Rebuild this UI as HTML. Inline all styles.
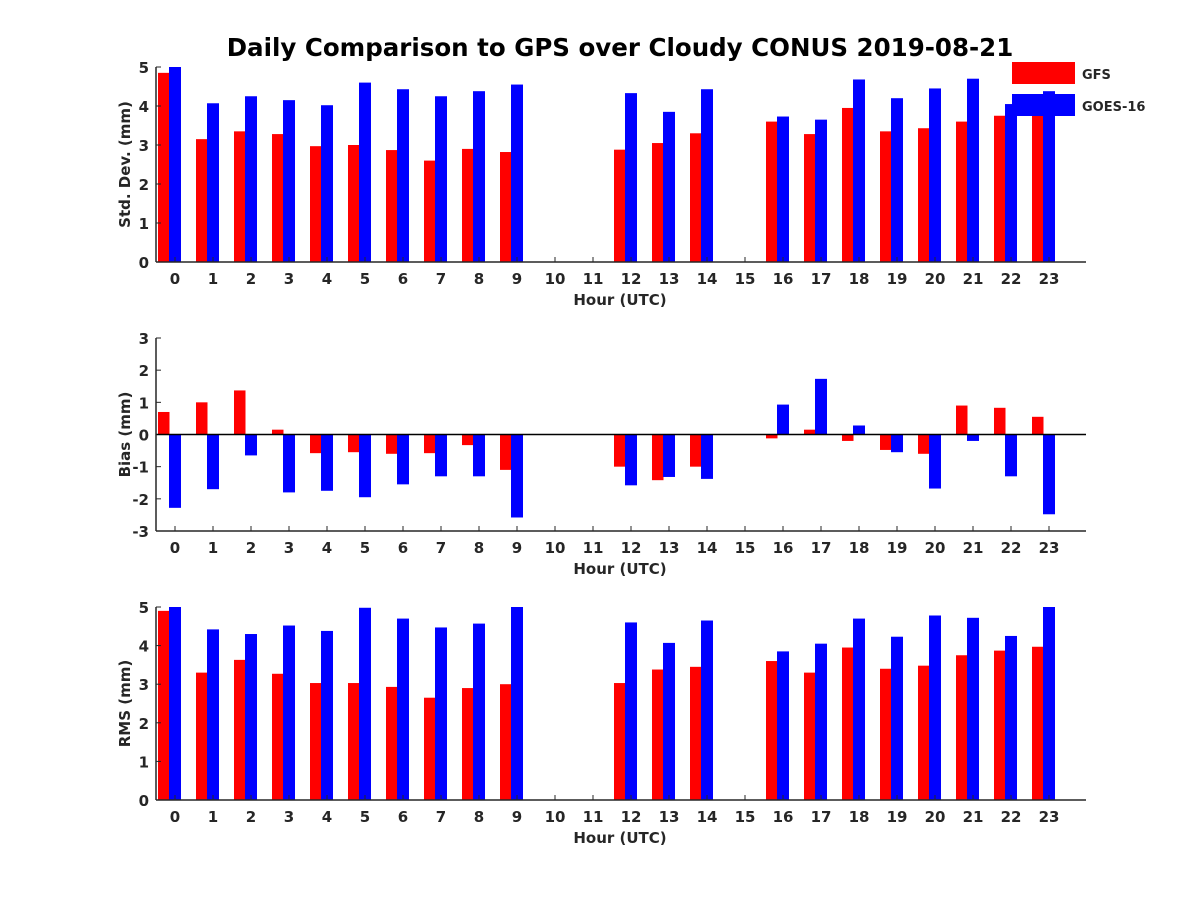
<!DOCTYPE html>
<html><head><meta charset="utf-8"><style>
body{margin:0;background:#fff}
svg text{font-family:"DejaVu Sans","Liberation Sans",sans-serif;font-weight:bold;fill:#262626}
</style></head><body>
<svg id="c" width="1200" height="900" xmlns="http://www.w3.org/2000/svg">
<rect width="1200" height="900" fill="#fff"/>
<text x="620" y="56" font-size="24.5" text-anchor="middle" style="fill:#000">Daily Comparison to GPS over Cloudy CONUS 2019-08-21</text>
</svg>
<script>
const hours=[0,1,2,3,4,5,6,7,8,9,10,11,12,13,14,15,16,17,18,19,20,21,22,23];
const stdGFS=[4.85,3.15,3.35,3.28,2.97,3.0,2.87,2.6,2.9,2.82,null,null,2.88,3.05,3.3,null,3.6,3.28,3.95,3.35,3.43,3.6,3.75,3.9];
const stdGOES=[5.0,4.07,4.25,4.15,4.02,4.6,4.43,4.25,4.38,4.55,null,null,4.33,3.85,4.43,null,3.73,3.65,4.68,4.2,4.45,4.7,4.05,4.38];
const biasGFS=[0.7,1.0,1.37,0.15,-0.58,-0.55,-0.6,-0.58,-0.33,-1.1,null,null,-1.0,-1.42,-1.0,null,-0.12,0.15,-0.2,-0.48,-0.6,0.9,0.83,0.55];
const biasGOES=[-2.28,-1.7,-0.65,-1.8,-1.75,-1.95,-1.55,-1.3,-1.3,-2.58,null,null,-1.58,-1.32,-1.38,null,0.93,1.73,0.28,-0.55,-1.68,-0.2,-1.3,-2.48];
const rmsGFS=[4.9,3.3,3.63,3.27,3.03,3.03,2.93,2.65,2.9,3.0,null,null,3.03,3.38,3.45,null,3.6,3.3,3.95,3.4,3.48,3.75,3.87,3.97];
const rmsGOES=[5.0,4.42,4.3,4.52,4.38,4.98,4.7,4.47,4.57,5.0,null,null,4.6,4.07,4.65,null,3.85,4.05,4.7,4.23,4.78,4.72,4.25,5.0];
const stdTicks=[0,1,2,3,4,5], biasTicks=[-3,-2,-1,0,1,2,3], rmsTicks=[0,1,2,3,4,5];
const svg=document.getElementById('c');
const NS='http://www.w3.org/2000/svg';
function mk(t,a,p){const e=document.createElementNS(NS,t);for(const k in a)e.setAttribute(k,a[k]);(p||svg).appendChild(e);return e;}
const X0=156,X1=1086;
const xs=h=>175+38*h;
function panel(name,top,bot,ymin,ymax,ticks,g,b,ylabel){
  const grp=mk('g',{});
  
  
  const ys=v=>bot-(v-ymin)/(ymax-ymin)*(bot-top);
  const z=ys(Math.max(0,ymin));
  hours.forEach((h,i)=>{
    const c=xs(h);
    if(g[i]!=null){const r=mk('rect',{x:c-17,y:Math.min(ys(g[i]),z),width:11.5,height:Math.abs(ys(g[i])-z),fill:'#ff0000'},grp);
      }
    if(b[i]!=null){const r=mk('rect',{x:c-6,y:Math.min(ys(b[i]),z),width:12,height:Math.abs(ys(b[i])-z),fill:'#0000ff'},grp);
      }
    const t=mk('text',{x:c,y:bot+22,'font-size':15,'text-anchor':'middle'},grp);t.textContent=h;
    
    mk('line',{x1:c,x2:c,y1:bot,y2:bot-5,stroke:'#262626'},grp);
  });
  ticks.forEach(v=>{const y=ys(v);
    mk('line',{x1:X0,x2:X0+5,y1:y,y2:y,stroke:'#262626'},grp);
    const t=mk('text',{x:X0-7,y:y+6,'font-size':15,'text-anchor':'end'},grp);t.textContent=v;
    });
  if(ymin<0) mk('line',{x1:X0,x2:X1,y1:z,y2:z,stroke:'#000','stroke-width':1.5},grp);
  mk('line',{x1:X0,x2:X0,y1:top,y2:bot,stroke:'#262626','stroke-width':1.5},grp);
  mk('line',{x1:X0,x2:X1,y1:bot,y2:bot,stroke:'#262626','stroke-width':1.5},grp);
  const xl=mk('text',{x:620,y:bot+43,'font-size':15,'text-anchor':'middle'},grp);xl.textContent='Hour (UTC)';
  
  const cy=(top+bot)/2;
  const yl=mk('text',{x:130,y:cy,'font-size':15,'text-anchor':'middle',transform:`rotate(-90 130 ${cy})`},grp);yl.textContent=ylabel;
  
}
panel('std-dev',67,262,0,5,stdTicks,stdGFS,stdGOES,'Std. Dev. (mm)');
panel('bias',338,531,-3,3,biasTicks,biasGFS,biasGOES,'Bias (mm)');
panel('rms',607,800,0,5,rmsTicks,rmsGFS,rmsGOES,'RMS (mm)');
const lg=mk('g',{});


mk('rect',{x:1012,y:62,width:63,height:22,fill:'#ff0000'},lg);
mk('rect',{x:1012,y:94,width:63,height:22,fill:'#0000ff'},lg);
const t1=mk('text',{x:1082,y:79,'font-size':13},lg);t1.textContent='GFS';

const t2=mk('text',{x:1082,y:111,'font-size':13},lg);t2.textContent='GOES-16';

</script>
</body></html>
